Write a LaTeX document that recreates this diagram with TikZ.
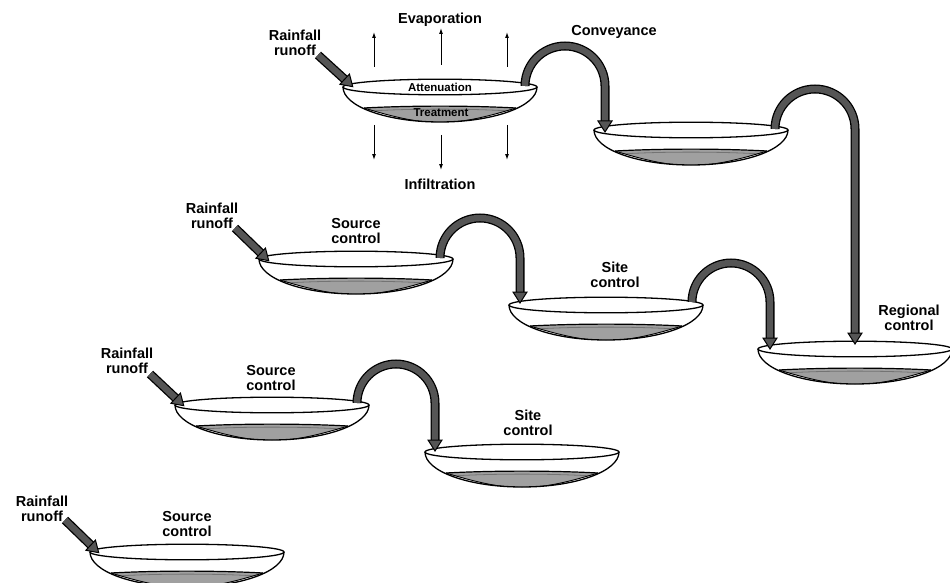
\documentclass[tikz,border=0pt]{standalone}
\usepackage{fontspec}
\setmainfont{Liberation Sans}
\usetikzlibrary{arrows.meta,calc}
\definecolor{pipegray}{RGB}{85,85,85}
\definecolor{treatgray}{RGB}{160,160,160}
\begin{document}
\begin{tikzpicture}[x=1pt,y=-1pt,
  lbl/.style={font=\bfseries\fontsize{14.5}{15.5}\selectfont, align=center, inner sep=0pt},
  smlbl/.style={font=\bfseries\fontsize{11.5}{12}\selectfont, inner sep=0pt},
  pipe/.style={line width=6.4pt, pipegray, preaction={draw=black, line width=9pt}},
  thinarrow/.style={line width=1pt, -{Latex[length=6pt,width=4pt]}},
  bowl/.pic={
    \fill[white] (-97,0) arc[start angle=180,end angle=360,x radius=97pt,y radius=35pt] -- cycle;
    \begin{scope}
      \clip (-97,0) arc[start angle=180,end angle=360,x radius=97pt,y radius=35pt] -- cycle;
      \fill[treatgray] (-76,21) .. controls (-30,18.5) and (30,18.5) .. (76,21)
        .. controls (40,32) and (20,35.5) .. (0,35.5) .. controls (-20,35.5) and (-40,32) .. (-76,21) -- cycle;
      \draw[line width=0.8pt, black!55] (-70,24) .. controls (-30,21.5) and (30,21.5) .. (70,24);
      \draw[line width=1.2pt] (-76,21) .. controls (-30,18.5) and (30,18.5) .. (76,21);
      \draw[line width=0.9pt] (-76,21) .. controls (-40,32) and (-20,35.5) .. (0,35.5) .. controls (20,35.5) and (40,32) .. (76,21);
    \end{scope}
    \draw[line width=1.3pt] (-97,0) arc[start angle=180,end angle=360,x radius=97pt,y radius=35pt];
    \draw[line width=1.3pt, fill=white] (0,0) ellipse[x radius=97pt, y radius=7.8pt];
  },
  headpic/.pic={\filldraw[fill=pipegray, draw=black, line width=1pt] (1,0) -- (-10,7) -- (-10,-7) -- cycle;}
]
\fill[white] (0,0) rectangle (950,583);
\useasboundingbox (0,0) rectangle (950,583);

% bowl centres (rim)
\coordinate (b1) at (440,87);
\coordinate (b2) at (691,130);
\coordinate (b3) at (356,259);
\coordinate (b4) at (606,305);
\coordinate (b5) at (855,349);
\coordinate (b6) at (272,405);
\coordinate (b7) at (522,452);
\coordinate (b8) at (187,552);
\foreach \b in {b1,b2,b3,b4,b5,b6,b7,b8} \pic at (\b) {bowl};

% evaporation / infiltration arrows
\coordinate (e1s) at (374,67); \coordinate (e1e) at (374,32);
\coordinate (e2s) at (441,65); \coordinate (e2e) at (441,28);
\coordinate (e3s) at (507,67); \coordinate (e3e) at (507,32);
\coordinate (i1s) at (374,125); \coordinate (i1e) at (374,160);
\coordinate (i2s) at (441,135); \coordinate (i2e) at (441,170);
\coordinate (i3s) at (507,125); \coordinate (i3e) at (507,160);
\foreach \a in {e1,e2,e3,i1,i2,i3} \draw[thinarrow] (\a s) -- (\a e);

% conveyance pipes
\coordinate (p1s) at (525,86);  \coordinate (p1h) at (605,131);
\coordinate (p2s) at (775,129); \coordinate (p2h) at (855,343);
\coordinate (p3s) at (440,258); \coordinate (p3h) at (520,302);
\coordinate (p4s) at (692,302); \coordinate (p4h) at (770,348);
\coordinate (p5s) at (357,403); \coordinate (p5h) at (435,450);
\draw[pipe] (p1s) arc[start angle=180,end angle=0,radius=40pt] -- ($(p1h)+(0,-9)$);
\draw[pipe] (p2s) arc[start angle=180,end angle=0,radius=40pt] -- ($(p2h)+(0,-9)$);
\draw[pipe] (p3s) arc[start angle=180,end angle=0,radius=40pt] -- ($(p3h)+(0,-9)$);
\draw[pipe] (p4s) arc[start angle=180,end angle=0,radius=39pt] -- ($(p4h)+(0,-9)$);
\draw[pipe] (p5s) arc[start angle=180,end angle=0,radius=39pt] -- ($(p5h)+(0,-9)$);
\foreach \p in {p1h,p2h,p3h,p4h,p5h} \path (\p) pic[rotate=-90] {headpic};

% rainfall runoff arrows
\coordinate (r1t) at (318,55);  \coordinate (r1h) at (352,86);
\coordinate (r3t) at (235,228); \coordinate (r3h) at (268,260);
\coordinate (r6t) at (150,374); \coordinate (r6h) at (183,405);
\coordinate (r8t) at (65,520);  \coordinate (r8h) at (98,552);
\foreach \r in {r1,r3,r6,r8} {
  \draw[pipe] (\r t) -- ($(\r h)!9pt!(\r t)$);
  \path (\r h) pic[rotate=-43] {headpic};
}

% labels
\node[lbl] (rain1) at (295,43) {Rainfall\\runoff};
\node[lbl] (rain3) at (212,216) {Rainfall\\runoff};
\node[lbl] (rain6) at (127,361) {Rainfall\\runoff};
\node[lbl] (rain8) at (42,509) {Rainfall\\runoff};
\node[lbl] (evap) at (440,20) {Evaporation};
\node[lbl] (infil) at (440,184) {Infiltration};
\node[lbl] (conv) at (614,32) {Conveyance};
\node[smlbl] (att) at (440,87.5) {Attenuation};
\node[smlbl] (treat) at (441,113) {Treatment};
\node[lbl] (src3) at (356,231) {Source\\control};
\node[lbl] (site4) at (615,275) {Site\\control};
\node[lbl] (reg) at (909,318) {Regional\\control};
\node[lbl] (src6) at (271,378) {Source\\control};
\node[lbl] (site7) at (528,423) {Site\\control};
\node[lbl] (src8) at (187,524) {Source\\control};
\end{tikzpicture}
\end{document}
